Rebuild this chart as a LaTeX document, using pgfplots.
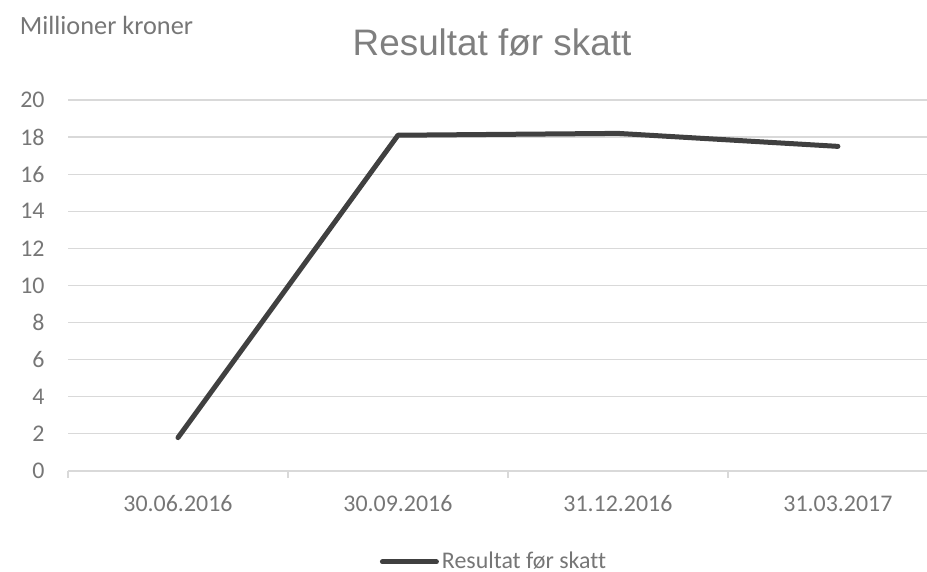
\documentclass[border=0pt]{standalone}
\usepackage{fontspec}
\setmainfont{Carlito}[Ligatures=NoCommon]
\newfontfamily\titlefont{Liberation Sans}
\usepackage{pgfplots}
\pgfplotsset{compat=1.18}

\definecolor{textgray}{HTML}{767676}
\definecolor{titlegray}{HTML}{7F7F7F}
\definecolor{gridgray}{HTML}{D9D9D9}
\definecolor{linegray}{HTML}{404040}

\begin{document}
\begin{tikzpicture}
\useasboundingbox (0,0) rectangle (463.5bp,286bp);

\begin{axis}[
    at={(34bp,50.5bp)}, anchor=south west,
    scale only axis,
    width=429.5bp, height=185.5bp,
    xmin=-0.5, xmax=3.405,
    ymin=0, ymax=20,
    ytick={0,2,...,20},
    xtick={0,1,2,3},
    xticklabels={30.06.2016,30.09.2016,31.12.2016,31.03.2017},
    minor xtick={-0.5,0.5,1.5,2.5},
    /pgf/number format/assume math mode=true,
    axis x line*=bottom, axis y line*=left,
    x axis line style={draw=gridgray, line width=0.6bp, -},
    y axis line style={draw=none},
    ymajorgrids,
    grid style={draw=gridgray, line width=0.6bp},
    tick align=outside,
    major tick length=0pt,
    minor tick length=3.5bp,
    minor x tick style={draw=gridgray, line width=0.6bp},
    major tick style={draw=none},
    ytick style={draw=none},
    tick label style={font=\fontsize{12}{14}\selectfont, text=textgray, inner sep=0pt},
    yticklabel style={anchor=east, xshift=-11.5bp},
    xticklabel style={anchor=base, yshift=-20bp},
    legend style={at={(0.4965,-0.245)}, anchor=center, draw=none, fill=none,
        font=\fontsize{12}{14}\selectfont, text=textgray,
        inner sep=0pt, column sep=0pt,
        nodes={inner sep=1.5bp}},
    legend image code/.code={\draw[#1] (0bp,0bp) -- (27bp,0bp);},
]
\addplot[draw=linegray, line width=2.5bp, line cap=round, line join=round]
coordinates {(0,1.8) (1,18.1) (2,18.2) (3,17.5)};
\addlegendentry{Resultat før skatt}
\end{axis}

\node[text=titlegray, font=\titlefont\fontsize{18.5}{22}\selectfont] at (246bp,265bp) {Resultat før skatt};
\node[text=textgray, font=\fontsize{13.2}{15}\selectfont] at (53.25bp,273.5bp) {Millioner kroner};
\end{tikzpicture}
\end{document}
